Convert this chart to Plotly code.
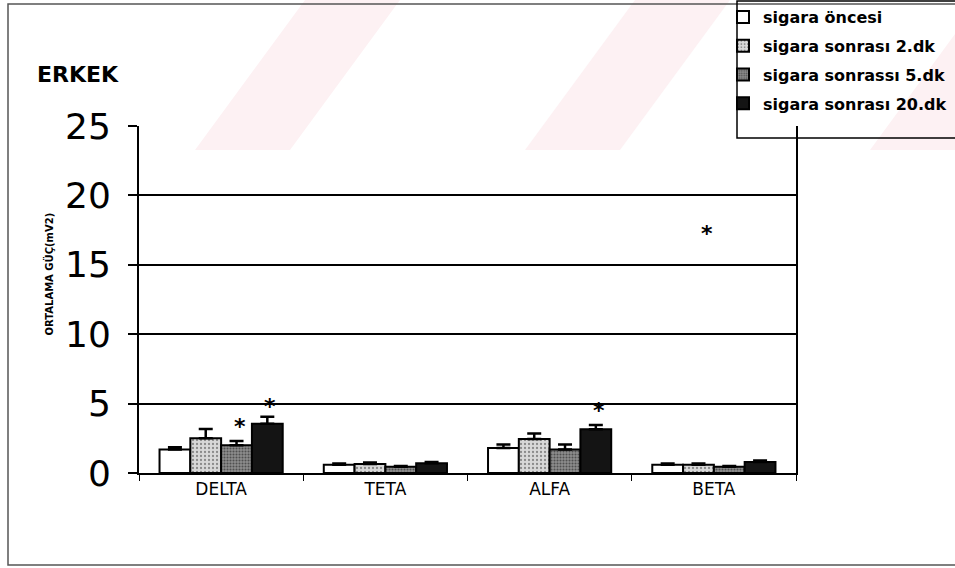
import plotly.graph_objects as go

# EEG band power (mean ± SEM) before and after smoking, male group
bands = ["DELTA", "TETA", "ALFA", "BETA"]
series_names = [
    "sigara öncesi",
    "sigara sonrası 2.dk",
    "sigara sonrassı 5.dk",
    "sigara sonrası 20.dk",
]
before = [1.7, 0.6, 1.8, 0.6]
after_2 = [2.5, 0.65, 2.45, 0.6]
after_5 = [2.0, 0.45, 1.7, 0.45]
after_20 = [3.55, 0.7, 3.15, 0.8]
err_before = [0.15, 0.08, 0.25, 0.08]
err_after_2 = [0.67, 0.1, 0.4, 0.08]
err_after_5 = [0.3, 0.06, 0.35, 0.06]
err_after_20 = [0.5, 0.1, 0.3, 0.1]

# significance markers: (band, series position, height)
star_bands = ["DELTA", "DELTA", "ALFA", "BETA"]
star_series = [2, 3, 3, 1.17]
star_heights = [3.8, 5.2, 4.9, 17.7]

y_ticks = [0, 5, 10, 15, 20, 25]

FONT = "DejaVu Sans, Arial"

W, H = 955, 568
L, R, T, B = 139, 159, 126, 95
plot_w = W - L - R
plot_h = H - T - B
bargap = 0.25
bar_px = plot_w / len(bands) * (1 - bargap) / 4

values = [before, after_2, after_5, after_20]
errors = [err_before, err_after_2, err_after_5, err_after_20]
fills = [
    dict(color="#ffffff"),
    dict(color="#d0d0d0", pattern=dict(shape=".", fgcolor="#3a3a3a", bgcolor="#d8d8d8", size=4, solidity=0.25)),
    dict(color="#808080", pattern=dict(shape=".", fgcolor="#111111", bgcolor="#8e8e8e", size=3, solidity=0.4)),
    dict(color="#141414"),
]


def px(x):
    """Pixel column -> paper fraction."""
    return (x - L) / plot_w


def py(y):
    """Pixel row (from top) -> paper fraction."""
    return (H - y - B) / plot_h


fig = go.Figure()
for i, (name, vals, errs, fill) in enumerate(zip(series_names, values, errors, fills)):
    fig.add_trace(go.Bar(
        x=bands, y=vals, name=name, legendgroup=f"g{i}",
        marker=dict(line=dict(color="#000000", width=2), **fill),
        error_y=dict(type="data", symmetric=False, array=errs,
                     arrayminus=[0] * len(errs), color="#000000",
                     thickness=2.5, width=7),
    ))

for band, s, h in zip(star_bands, star_series, star_heights):
    fig.add_annotation(
        x=band, y=h, xref="x", yref="y", text="<b>*</b>", showarrow=False,
        xshift=(s - 1.5) * bar_px + 3, yshift=-6,
        font=dict(family=FONT, size=22, color="#000000"),
    )

# y-axis caption and chart heading
fig.add_annotation(
    x=px(39), y=py(274), xref="paper", yref="paper", text="<b>ORTALAMA GÜÇ(mV2)</b>",
    textangle=-90, showarrow=False,
    font=dict(family=FONT, size=10, color="#000000"),
)
fig.add_annotation(
    x=px(35), y=py(60), xref="paper", yref="paper", text="<b>ERKEK</b>",
    showarrow=False, xanchor="left",
    font=dict(family=FONT, size=22, color="#000000"),
)

shapes = []
# faint diagonal background stripes
for x0 in [195, 525, 870]:
    shapes.append(dict(
        type="path", xref="paper", yref="paper", layer="below",
        path=f"M {px(x0)},{py(150)} L {px(x0 + 95)},{py(150)} L {px(x0 + 205)},{py(0)} L {px(x0 + 110)},{py(0)} Z",
        fillcolor="#fdf1f3", line=dict(width=0),
    ))
# outer frame
shapes.append(dict(type="path", xref="paper", yref="paper",
                   path=f"M {px(960)},{py(4)} L {px(8)},{py(4)} L {px(8)},{py(565)} L {px(960)},{py(565)}",
                   line=dict(color="#555555", width=1.5)))
# legend frame
shapes.append(dict(type="rect", xref="paper", yref="paper",
                   x0=px(737), x1=px(958), y0=py(138), y1=py(1),
                   line=dict(color="#000000", width=1.5), fillcolor="rgba(0,0,0,0)"))

fig.update_layout(
    width=W, height=H, autosize=False,
    margin=dict(l=L, r=R, t=T, b=B, pad=0, autoexpand=False),
    paper_bgcolor="#ffffff", plot_bgcolor="rgba(0,0,0,0)",
    barmode="group", bargap=bargap, bargroupgap=0,
    shapes=shapes,
    showlegend=True,
    legend=dict(
        xref="container", yref="container", x=723 / W, y=1 - 0 / H,
        xanchor="left", yanchor="top", traceorder="grouped", tracegroupgap=5,
        bgcolor="rgba(0,0,0,0)", borderwidth=0,
        font=dict(family=FONT, size=16, color="#000000", weight="bold"),
    ),
    xaxis=dict(
        showline=True, linecolor="#000000", linewidth=2,
        ticks="outside", tickson="boundaries", ticklen=6, tickcolor="#000000",
        tickfont=dict(family=FONT, size=17, color="#000000"),
        showgrid=False, zeroline=False,
    ),
    yaxis=dict(
        range=[0, 25], tickvals=y_ticks, ticks="outside", ticklen=9,
        tickcolor="#000000", tickwidth=1.5, ticklabelstandoff=10,
        tickfont=dict(family=FONT, size=36, color="#000000"),
        showline=True, linecolor="#000000", linewidth=2, mirror=True,
        showgrid=True, gridcolor="#000000", gridwidth=1.5, zeroline=False,
    ),
)

fig.write_html("out.html")
